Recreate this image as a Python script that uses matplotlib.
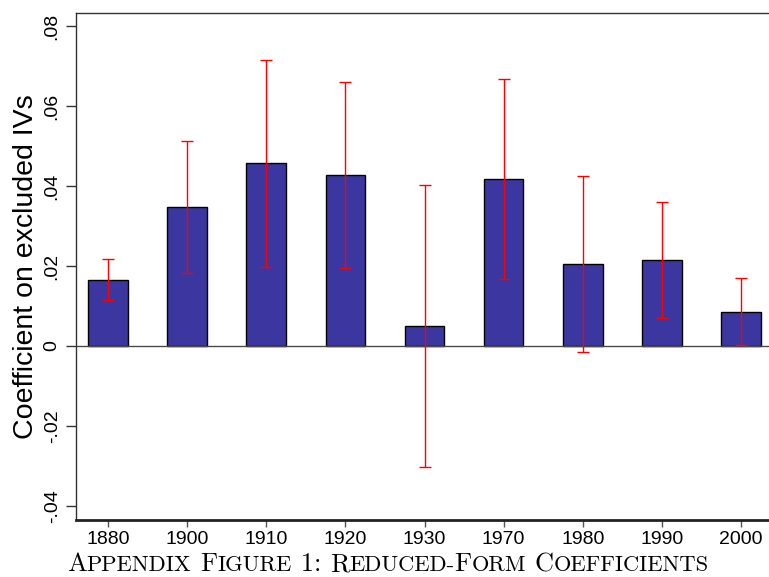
import matplotlib
matplotlib.use('Agg')
import matplotlib.pyplot as plt
import numpy as np

# values
years = ['1880', '1900', '1910', '1920', '1930', '1970', '1980', '1990', '2000']
coef = [0.0165, 0.0347, 0.0457, 0.0427, 0.0050, 0.0417, 0.0205, 0.0216, 0.0086]
ci_low = [0.0115, 0.0182, 0.0198, 0.0194, -0.0302, 0.0168, -0.0014, 0.0071, 0.0002]
ci_high = [0.0217, 0.0512, 0.0716, 0.0661, 0.0402, 0.0667, 0.0424, 0.0361, 0.0169]

ytick_vals = [-0.04, -0.02, 0, 0.02, 0.04, 0.06, 0.08]
ytick_labels = ['-.04', '-.02', '0', '.02', '.04', '.06', '.08']

W, H = 769, 577
fig = plt.figure(figsize=(W / 100, H / 100), dpi=100)
ax = fig.add_axes([76 / W, 1 - 520 / H, 697 / W, 507 / H])

sans = 'Liberation Sans'
x = np.arange(len(years))
c = np.array(coef)
lo = np.array(ci_low)
hi = np.array(ci_high)

ax.bar(x, c, width=0.5, color='#3c36a0', edgecolor='black', linewidth=1, zorder=2)
ax.axhline(0, color='#4a4a4a', linewidth=1, zorder=2.5)
ax.errorbar(x, c, yerr=[c - lo, hi - c], fmt='none', ecolor='red',
            elinewidth=1, capsize=4.5, capthick=1, zorder=3)

ax.set_xlim(-0.405, 8.405)
ax.set_ylim(-0.0435, 0.08325)

ax.set_xticks(x)
ax.set_xticklabels(years, fontsize=14, family=sans)
ax.set_yticks(ytick_vals)
ax.set_yticklabels(ytick_labels, fontsize=14, family=sans, rotation=90, va='center')
ax.tick_params(axis='x', length=5, width=1, color='#555555', pad=3)
ax.tick_params(axis='y', length=7, width=1, color='#333333', pad=4)

ax.set_ylabel('Coefficient on excluded IVs', fontsize=20.5, family=sans)
ax.yaxis.set_label_coords(-0.053, 0.5)

for side in ['top', 'right', 'left']:
    ax.spines[side].set_linewidth(1)
    ax.spines[side].set_color('#333333')
ax.spines['bottom'].set_linewidth(2)
ax.spines['bottom'].set_color('#222222')

# caption in small caps, built piece by piece
pieces = [('A', 1), ('PPENDIX', 0), (' ', 1), ('F', 1), ('IGURE', 0), (' 1: ', 1),
          ('R', 1), ('EDUCED-', 0), ('F', 1), ('ORM', 0), (' ', 1), ('C', 1),
          ('OEFFICIENTS', 0)]
big, small = 19, 16.2
renderer = fig.canvas.get_renderer()
xpos = 67
for seg, is_big in pieces:
    t = fig.text(xpos / W, 1 - 571 / H, seg, fontsize=big if is_big else small,
                 family='cmr10', va='baseline', ha='left')
    xpos = t.get_window_extent(renderer).x1

fig.savefig('out.png', dpi=100)
